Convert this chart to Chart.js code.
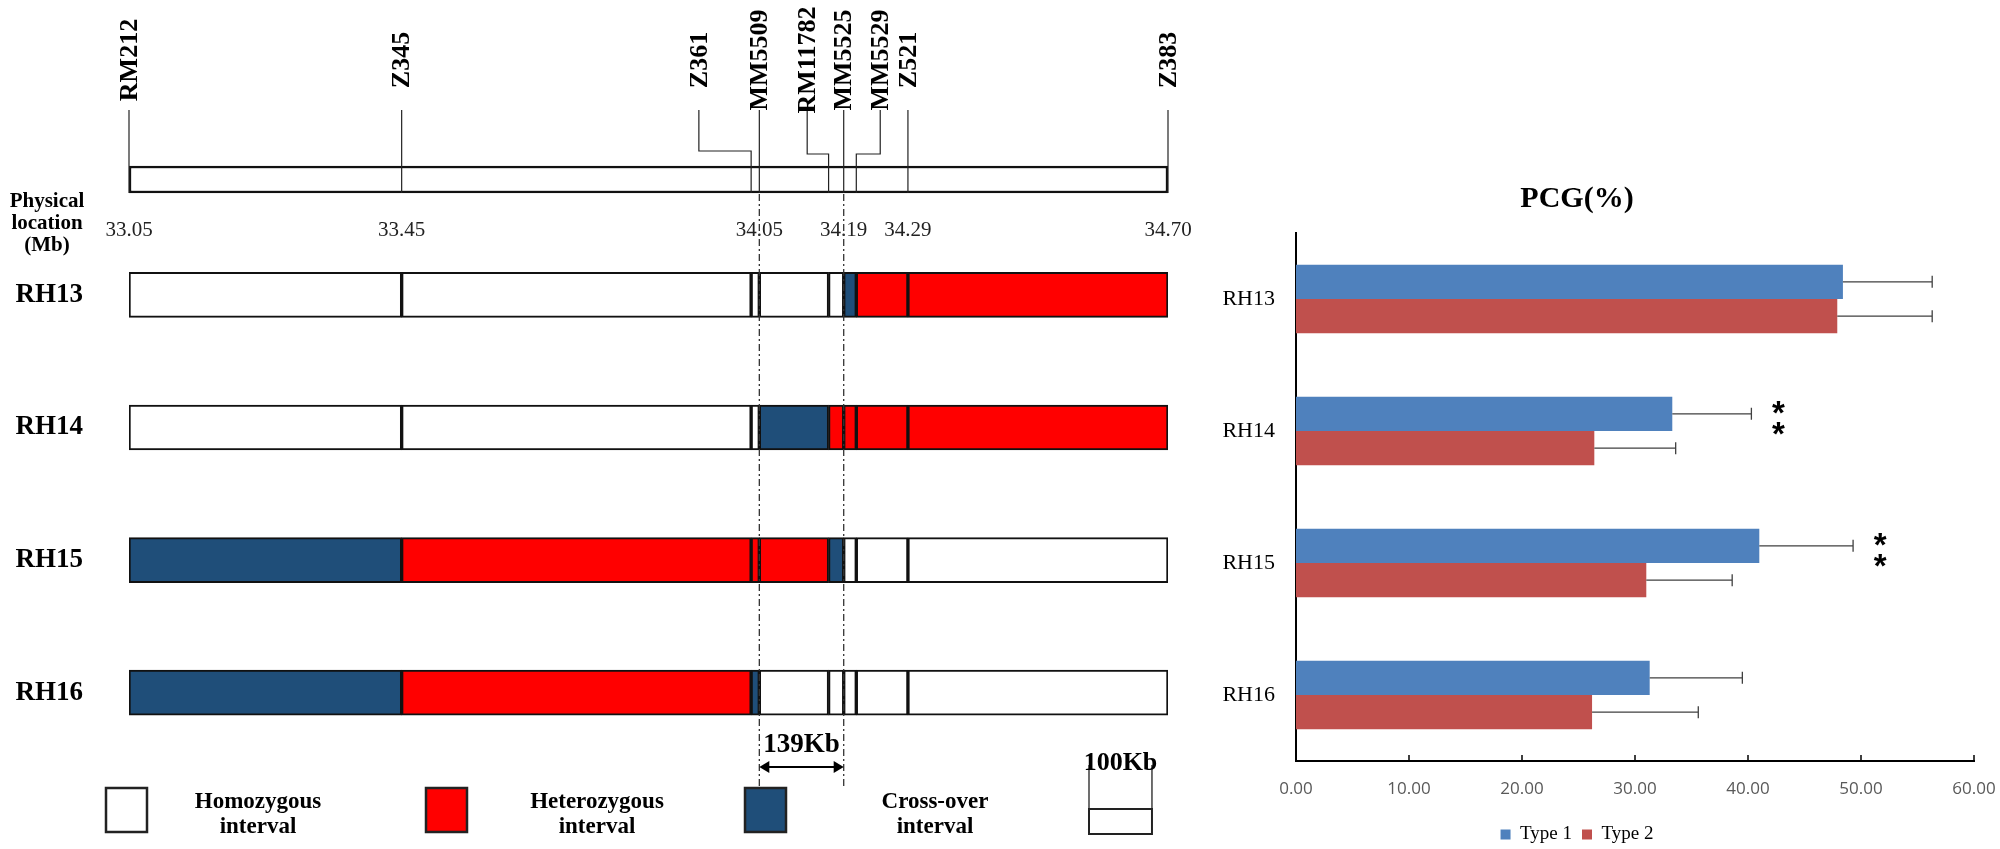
<!DOCTYPE html>
<html>
<head>
<meta charset="utf-8">
<script src="https://cdn.jsdelivr.net/npm/chart.js@4.4.1/dist/chart.umd.min.js"></script>
<style>
  html, body { margin: 0; padding: 0; background: #fff; overflow: hidden; }
  #wrap { position: relative; width: 2000px; height: 849px; overflow: hidden; }
  canvas { position: absolute; top: 0; }
  #mapChart { left: 0; }
  #pcgChart { left: 1180px; }
</style>
</head>
<body>
<div id="wrap">
  <canvas id="mapChart" width="1200" height="849"></canvas>
  <canvas id="pcgChart" width="866" height="880"></canvas>
</div>
<script>
// ---------- physical map data ----------
var markerNames   = ['RM212', 'Z345', 'Z361', 'MM5509', 'RM11782', 'MM5525', 'MM5529', 'Z521', 'Z383'];
var markerMb      = [33.05, 33.483, 34.038, 34.051, 34.161, 34.185, 34.205, 34.287, 34.70];
var markerLabelMb = [33.05, 33.483, 33.955, 34.051, 34.127, 34.185, 34.243, 34.287, 34.70];
var physMarkers   = [0, 1, 3, 5, 7, 8];
var physLabels    = ['33.05', '33.45', '34.05', '34.19', '34.29', '34.70'];
var lineNames     = ['RH13', 'RH14', 'RH15', 'RH16'];
// genotype of each interval between neighbouring markers
// W = homozygous, R = heterozygous, B = cross-over
var genoRH13 = ['W', 'W', 'W', 'W', 'W', 'B', 'R', 'R'];
var genoRH14 = ['W', 'W', 'W', 'B', 'R', 'R', 'R', 'R'];
var genoRH15 = ['B', 'R', 'R', 'R', 'B', 'W', 'W', 'W'];
var genoRH16 = ['B', 'R', 'B', 'W', 'W', 'W', 'W', 'W'];
var intervalKb = '139Kb';

// ---------- PCG data ----------
var pcgLines  = ['RH13', 'RH14', 'RH15', 'RH16'];
var type1     = [48.4, 33.3, 41.0, 31.3];
var type2     = [47.9, 26.4, 31.0, 26.2];
var type1Err  = [7.9, 7.0, 8.3, 8.2];
var type2Err  = [8.4, 7.2, 7.6, 9.4];
var sigMarks  = ['', '**', '**', ''];
var xTicks    = [0, 10, 20, 30, 40, 50, 60];

var rows = [genoRH13, genoRH14, genoRH15, genoRH16];
var chromRow = 0.13;

function segments(code) {
  var out = [];
  rows.forEach(function (g, r) {
    g.forEach(function (c, k) {
      if (c === code) out.push({ x: [markerMb[k], markerMb[k + 1]], y: r + 1 });
    });
  });
  return out;
}

var serif = '"Liberation Serif", "Times New Roman", serif';

// decorations of the map: marker names, scale labels, legend
var mapDecor = {
  id: 'mapDecor',
  afterDatasetsDraw: function (chart) {
    var ctx = chart.ctx, xs = chart.scales.x, ys = chart.scales.y;
    var px = function (v) { return xs.getPixelForValue(v); };
    var barBot = ys.getPixelForValue(chromRow) + 13.5;
    ctx.save();

    // marker lines and names
    ctx.strokeStyle = '#222';
    ctx.lineWidth = 1.2;
    markerNames.forEach(function (name, i) {
      var xl = px(markerLabelMb[i]), xb = px(markerMb[i]);
      var elbow = (i === 2) ? 151 : 154;
      ctx.beginPath();
      ctx.moveTo(xl, 110);
      if (Math.abs(xl - xb) > 1) { ctx.lineTo(xl, elbow); ctx.lineTo(xb, elbow); }
      ctx.lineTo(xb, barBot);
      ctx.stroke();
      ctx.save();
      ctx.translate(xl, 60);
      ctx.rotate(-Math.PI / 2);
      ctx.font = 'bold 26px ' + serif;
      ctx.fillStyle = '#000';
      ctx.textAlign = 'center';
      ctx.textBaseline = 'middle';
      ctx.fillText(name, 0, 1);
      ctx.restore();
    });

    // physical location values
    ctx.font = '21px ' + serif;
    ctx.fillStyle = '#222';
    ctx.textAlign = 'center';
    ctx.textBaseline = 'alphabetic';
    physMarkers.forEach(function (m, i) {
      ctx.fillText(physLabels[i], px(markerMb[m]), 236);
    });
    ctx.font = 'bold 21px ' + serif;
    ctx.fillStyle = '#000';
    ctx.fillText('Physical', 47, 207);
    ctx.fillText('location', 47, 229);
    ctx.fillText('(Mb)', 47, 251);

    // dash-dot guide lines
    var g1 = px(markerMb[3]), g2 = px(markerMb[5]);
    ctx.strokeStyle = '#333';
    ctx.lineWidth = 1.3;
    ctx.setLineDash([7, 3, 2, 3]);
    [g1, g2].forEach(function (x) {
      ctx.beginPath(); ctx.moveTo(x, barBot + 1); ctx.lineTo(x, 788); ctx.stroke();
    });
    ctx.setLineDash([]);

    // 139Kb arrow
    var ay = 767;
    ctx.strokeStyle = '#000';
    ctx.fillStyle = '#000';
    ctx.lineWidth = 2;
    ctx.beginPath(); ctx.moveTo(g1 + 6, ay); ctx.lineTo(g2 - 6, ay); ctx.stroke();
    ctx.beginPath(); ctx.moveTo(g1, ay); ctx.lineTo(g1 + 10, ay - 6); ctx.lineTo(g1 + 10, ay + 6); ctx.closePath(); ctx.fill();
    ctx.beginPath(); ctx.moveTo(g2, ay); ctx.lineTo(g2 - 10, ay - 6); ctx.lineTo(g2 - 10, ay + 6); ctx.closePath(); ctx.fill();
    ctx.font = 'bold 27px ' + serif;
    ctx.textAlign = 'center';
    ctx.fillText(intervalKb, (g1 + g2) / 2, 752);

    // legend
    var legend = [
      { fill: '#ffffff', box: 106, text: 258, words: ['Homozygous', 'interval'] },
      { fill: '#ff0000', box: 426, text: 597, words: ['Heterozygous', 'interval'] },
      { fill: '#1f4e79', box: 745, text: 935, words: ['Cross-over', 'interval'] }
    ];
    legend.forEach(function (l) {
      ctx.fillStyle = l.fill;
      ctx.fillRect(l.box, 788, 41, 44);
      ctx.strokeStyle = '#222';
      ctx.lineWidth = 2.5;
      ctx.strokeRect(l.box, 788, 41, 44);
      ctx.fillStyle = '#000';
      ctx.font = 'bold 23px ' + serif;
      ctx.fillText(l.words[0], l.text, 808);
      ctx.fillText(l.words[1], l.text, 833);
    });

    // 100Kb scale bar
    var sx = 1089, sw = px(34.70) - px(34.60);
    ctx.strokeStyle = '#222';
    ctx.lineWidth = 2;
    ctx.strokeRect(sx, 809, sw, 25);
    ctx.lineWidth = 1.3;
    ctx.beginPath();
    ctx.moveTo(sx, 809); ctx.lineTo(sx, 765);
    ctx.moveTo(sx + sw, 809); ctx.lineTo(sx + sw, 765);
    ctx.stroke();
    ctx.fillStyle = '#000';
    ctx.font = 'bold 26px ' + serif;
    ctx.fillText('100Kb', sx + sw / 2, 770);
    ctx.restore();
  }
};

var segStyle = { borderColor: '#111', borderWidth: 2, borderSkipped: false, barThickness: 45 };

new Chart(document.getElementById('mapChart'), {
  type: 'bar',
  data: {
    datasets: [
      Object.assign({ label: 'chromosome', data: [{ x: [markerMb[0], markerMb[markerMb.length - 1]], y: chromRow }],
        backgroundColor: '#ffffff' }, segStyle, { barThickness: 27, borderWidth: 2.5 }),
      Object.assign({ label: 'Homozygous interval', data: segments('W'), backgroundColor: '#ffffff' }, segStyle),
      Object.assign({ label: 'Heterozygous interval', data: segments('R'), backgroundColor: '#ff0000' }, segStyle),
      Object.assign({ label: 'Cross-over interval', data: segments('B'), backgroundColor: '#1f4e79' }, segStyle)
    ]
  },
  options: {
    indexAxis: 'y',
    responsive: false,
    animation: false,
    devicePixelRatio: 1,
    datasets: { bar: { grouped: false } },
    layout: { padding: { left: 0, right: 32, top: 96, bottom: 90 } },
    scales: {
      x: { type: 'linear', min: 33.05, max: 34.70, display: false },
      y: {
        type: 'linear', min: -0.5, max: 4.5, reverse: true, offset: false,
        grid: { display: false, drawTicks: false, offset: false },
        border: { display: false },
        afterFit: function (s) { s.width = 129; },
        afterBuildTicks: function (s) { s.ticks = [1, 2, 3, 4].map(function (v) { return { value: v }; }); },
        ticks: {
          autoSkip: false, padding: 46, color: '#000',
          font: { family: serif, weight: 'bold', size: 27 },
          callback: function (v) { return lineNames[v - 1]; }
        }
      }
    },
    plugins: { legend: { display: false }, tooltip: { enabled: false } }
  },
  plugins: [mapDecor]
});

// error bars, inner tick marks and significance stars
var pcgDecor = {
  id: 'pcgDecor',
  afterDatasetsDraw: function (chart) {
    var ctx = chart.ctx, xs = chart.scales.x;
    var errs = [type1Err, type2Err];
    ctx.save();
    ctx.strokeStyle = '#404040';
    ctx.lineWidth = 1.3;
    chart.data.datasets.forEach(function (ds, i) {
      chart.getDatasetMeta(i).data.forEach(function (bar, j) {
        var x2 = xs.getPixelForValue(ds.data[j] + errs[i][j]);
        ctx.beginPath();
        ctx.moveTo(bar.x, bar.y); ctx.lineTo(x2, bar.y);
        ctx.moveTo(x2, bar.y - 6); ctx.lineTo(x2, bar.y + 6);
        ctx.stroke();
      });
    });
    // tick marks pointing into the plot
    var yb = chart.chartArea.bottom;
    ctx.strokeStyle = '#000';
    ctx.lineWidth = 1.5;
    xTicks.forEach(function (v) {
      var x = xs.getPixelForValue(v);
      ctx.beginPath(); ctx.moveTo(x, yb); ctx.lineTo(x, yb - 6); ctx.stroke();
    });
    // ** marks
    ctx.fillStyle = '#000';
    ctx.font = 'bold 33px "Liberation Sans", Arial, sans-serif';
    ctx.textAlign = 'center';
    ctx.textBaseline = 'middle';
    var meta = chart.getDatasetMeta(0);
    sigMarks.forEach(function (m, j) {
      if (!m) return;
      var x = xs.getPixelForValue(type1[j] + type1Err[j]) + 27;
      var y = meta.data[j].y;
      ctx.fillText('*', x, y + 1);
      ctx.fillText('*', x, y + 22);
    });
    ctx.restore();
  }
};

new Chart(document.getElementById('pcgChart'), {
  type: 'bar',
  data: {
    labels: pcgLines,
    datasets: [
      { label: 'Type 1', data: type1, backgroundColor: '#4f81bd', borderWidth: 0 },
      { label: 'Type 2', data: type2, backgroundColor: '#c0504d', borderWidth: 0 }
    ]
  },
  options: {
    indexAxis: 'y',
    responsive: false,
    animation: false,
    devicePixelRatio: 1,
    layout: { padding: { left: 0, right: 72, top: 0, bottom: 26 } },
    datasets: { bar: { categoryPercentage: 0.52, barPercentage: 1.0 } },
    scales: {
      x: {
        min: 0, max: 60,
        grid: { display: false, drawTicks: false },
        border: { display: true, color: '#000', width: 2 },
        afterFit: function (s) { s.height = 54; },
        afterBuildTicks: function (s) { s.ticks = xTicks.map(function (v) { return { value: v }; }); },
        ticks: {
          padding: 18, color: '#595959',
          font: { family: '"Open Sans", sans-serif', size: 17 },
          callback: function (v) { return Number(v).toFixed(2); }
        }
      },
      y: {
        grid: { display: false, drawTicks: false },
        border: { display: true, color: '#000', width: 2 },
        afterFit: function (s) { s.width = 116; },
        ticks: { padding: 21, color: '#000', font: { family: serif, size: 22 } }
      }
    },
    plugins: {
      title: {
        display: true, text: 'PCG(%)', color: '#000',
        font: { family: serif, weight: 'bold', size: 30 },
        padding: { top: 181, bottom: 16 }
      },
      legend: {
        position: 'bottom',
        labels: { boxWidth: 10, boxHeight: 10, padding: 10, color: '#000', font: { family: serif, size: 19 } }
      },
      tooltip: { enabled: false }
    }
  },
  plugins: [pcgDecor]
});
</script>
</body>
</html>
